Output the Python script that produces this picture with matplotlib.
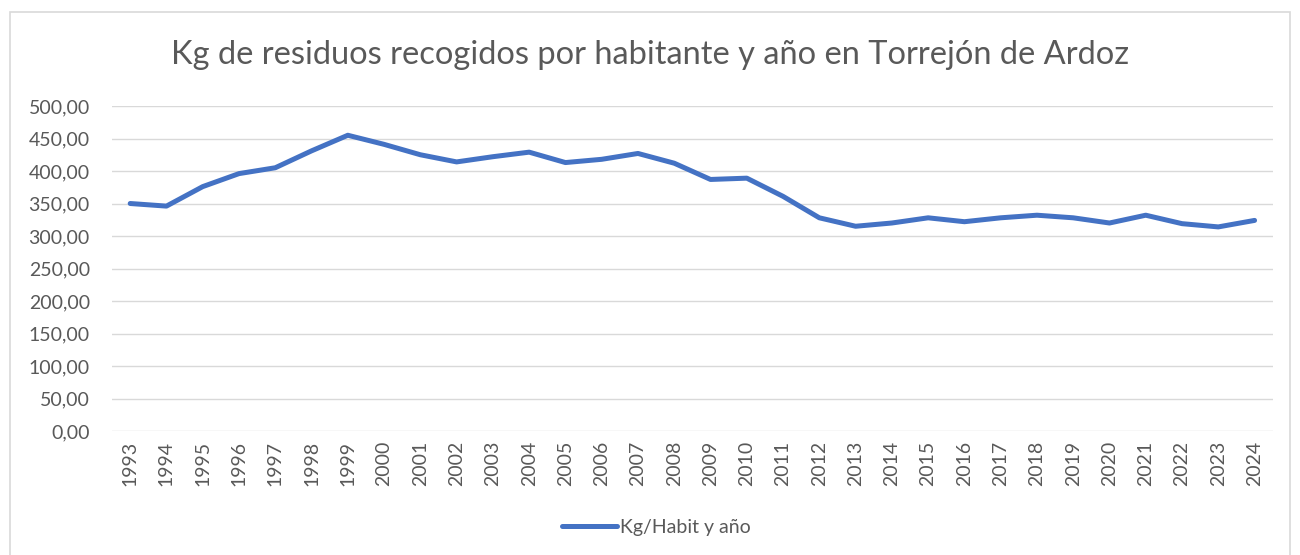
import matplotlib
matplotlib.use("Agg")
import matplotlib.pyplot as plt
from matplotlib.patches import Rectangle
from matplotlib.ticker import FuncFormatter

years = list(range(1993, 2025))
kg_habit = [350, 346, 376, 396, 405, 431, 455, 441, 425, 414, 422, 429,
            413, 418, 427, 412, 387, 389, 361, 328, 315, 320, 328, 322,
            328, 332, 328, 320, 332, 319, 314, 324]

plt.rcParams['font.family'] = ['Lato', 'DejaVu Sans']
grey = '#595959'

fig = plt.figure(figsize=(13, 5.55), dpi=100)
ax = fig.add_axes([0.0862, 0.2234, 0.8928, 0.5856])

# borde del grafico
fig.patches.append(Rectangle((10 / 1300, -0.05), 1280 / 1300, 1 - 12 / 555 + 0.05,
                             transform=fig.transFigure, fill=False,
                             edgecolor='#D9D9D9', linewidth=1.2))

x = list(range(len(years)))
line, = ax.plot(x, kg_habit, color='#4472C4', linewidth=3.6,
                solid_capstyle='round', solid_joinstyle='round')

ax.set_xlim(-0.5, len(years) - 0.5)
ax.set_ylim(0, 500)
ax.set_yticks(range(0, 501, 50))
ax.yaxis.set_major_formatter(FuncFormatter(lambda v, p: f"{v:.2f}".replace('.', ',')))
ax.set_xticks(x)
ax.set_xticklabels([str(y) for y in years], rotation=90)

ax.grid(axis='y', color='#D9D9D9', linewidth=1.0)
ax.set_axisbelow(True)
for s in ax.spines.values():
    s.set_visible(False)
ax.tick_params(axis='both', length=0, colors=grey, labelsize=14)
ax.tick_params(axis='y', pad=16)
ax.tick_params(axis='x', pad=7)

fig.text(0.5, 0.9, "Kg de residuos recogidos por habitante y año en Torrejón de Ardoz",
         ha='center', va='center', fontsize=23.5, color=grey)

fig.legend([line], ["Kg/Habit y año"], loc='center', bbox_to_anchor=(0.505, 0.05),
           frameon=False, fontsize=14, labelcolor=grey, handlelength=2.8,
           handletextpad=0.15)

fig.savefig("out.png", dpi=100)
